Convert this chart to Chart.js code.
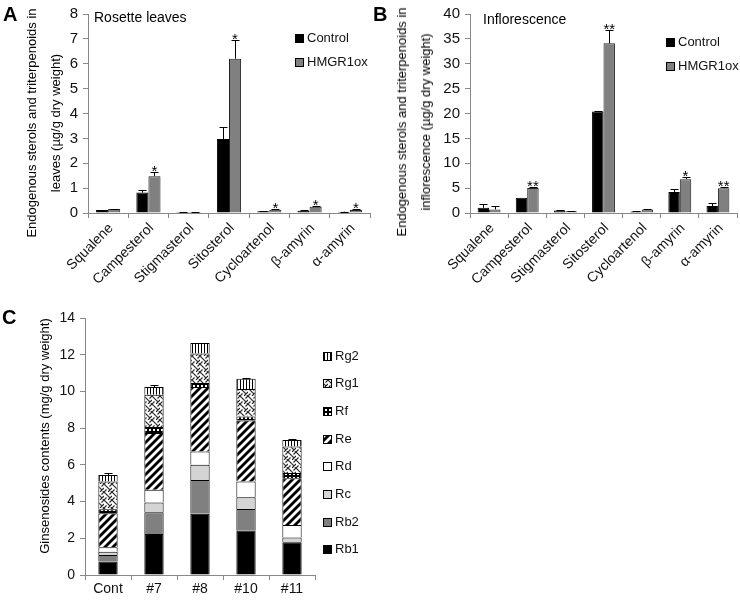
<!DOCTYPE html>
<html><head><meta charset="utf-8">
<script src="https://cdn.jsdelivr.net/npm/chart.js@4.4.1/dist/chart.umd.min.js"></script>
<style>
html,body{margin:0;padding:0;background:#fff;}
body{width:740px;height:603px;position:relative;overflow:hidden;font-family:"Liberation Sans",Arial,sans-serif;color:#000;}
canvas{position:absolute;display:block;}
.t{position:absolute;white-space:nowrap;line-height:1;}
.letter{font-weight:bold;font-size:20px;}
.yt{position:absolute;white-space:nowrap;font-size:13px;line-height:24px;text-align:center;transform:translate(-50%,-50%) rotate(-90deg);}
</style></head><body>
<canvas id="cA" width="380" height="300" style="left:0;top:0"></canvas>
<canvas id="cB" width="370" height="300" style="left:370px;top:0"></canvas>
<canvas id="cC" width="370" height="303" style="left:0;top:300px"></canvas>
<div class="t letter" style="left:3px;top:4px">A</div>
<div class="t letter" style="left:373px;top:4px">B</div>
<div class="t letter" style="left:2px;top:307px">C</div>
<div class="t" style="left:94px;top:10px;font-size:14px">Rosette leaves</div>
<div class="t" style="left:483px;top:12px;font-size:14px">Inflorescence</div>
<div class="yt" style="left:44px;top:123px">Endogenous sterols and triterpenoids in<br>leaves (µg/g dry weight)</div>
<div class="yt" style="left:414px;top:122px">Endogenous sterols and triterpenoids in<br>inflorescence (µg/g dry weight)</div>
<div class="yt" style="left:45px;top:436px">Ginsenosides contents (mg/g dry weight)</div>
<script>
// ---------- data ----------
const compounds = ['Squalene','Campesterol','Stigmasterol','Sitosterol','Cycloartenol','β-amyrin','α-amyrin'];
const leafControl    = [0.12, 0.82, 0.04, 2.97, 0.07, 0.09, 0.05];
const leafHMGR       = [0.16, 1.48, 0.04, 6.20, 0.13, 0.25, 0.12];
const leafControlErr = [0.02, 0.10, 0.01, 0.50, 0.01, 0.03, 0.01];
const leafHMGRErr    = [0.02, 0.16, 0.01, 0.77, 0.03, 0.05, 0.03];
const leafSig        = ['', '*', '', '*', '*', '*', '*'];

const inflControl    = [1.04, 3.07, 0.50, 20.4, 0.30, 4.20, 1.40];
const inflHMGR       = [0.72, 5.04, 0.35, 34.1, 0.70, 6.80, 5.00];
const inflControlErr = [0.86, 0.00, 0.10, 0.10, 0.05, 0.60, 0.55];
const inflHMGRErr    = [0.65, 0.26, 0.05, 2.70, 0.05, 0.45, 0.30];
const inflSig        = ['', '**', '', '**', '', '*', '**'];

const seriesNames = ['Control', 'HMGR1ox'];

const lines = ['Cont', '#7', '#8', '#10', '#11'];
const Rb1 = [0.73, 2.24, 3.33, 2.42, 1.78];
const Rb2 = [0.36, 1.18, 1.85, 1.18, 0.00];
const Rc  = [0.18, 0.53, 0.82, 0.64, 0.26];
const Rd  = [0.24, 0.69, 0.73, 0.85, 0.69];
const Re  = [1.85, 3.09, 3.51, 3.33, 2.54];
const Rf  = [0.22, 0.33, 0.22, 0.22, 0.28];
const Rg1 = [1.51, 1.76, 1.60, 1.49, 1.45];
const Rg2 = [0.36, 0.42, 0.58, 0.56, 0.36];
const totalErr = [0.10, 0.13, 0.00, 0.03, 0.04];

// ---------- styles ----------
Chart.defaults.font.family = '"Liberation Sans", Arial, sans-serif';
Chart.defaults.color = '#111';
Chart.defaults.animation = false;
const AX = '#888';

function pattern(ctx, w, h, draw) {
  const c = document.createElement('canvas'); c.width = w; c.height = h;
  const g = c.getContext('2d');
  g.fillStyle = '#fff'; g.fillRect(0, 0, w, h);
  draw(g);
  return ctx.createPattern(c, 'repeat');
}

// error bars + significance + legend plugin
const extras = {
  id: 'extras',
  afterDatasetsDraw(chart, args, o) {
    const ctx = chart.ctx, ys = chart.scales.y;
    ctx.save();
    ctx.strokeStyle = '#000'; ctx.lineWidth = 1;
    (o.err || []).forEach(e => {
      const meta = chart.getDatasetMeta(e.ds);
      meta.data.forEach((el, i) => {
        if (!e.v[i]) return;
        const top = Math.round(ys.getPixelForValue(e.base[i] + e.v[i])) + 0.5;
        const x = Math.round(el.x) + 0.5;
        ctx.beginPath();
        ctx.moveTo(x, el.y); ctx.lineTo(x, top);
        ctx.moveTo(x - 4, top); ctx.lineTo(x + 4, top);
        ctx.stroke();
      });
    });
    if (o.sig) {
      const meta = chart.getDatasetMeta(o.sig.ds);
      ctx.fillStyle = '#000'; ctx.font = '15px "Liberation Sans", Arial, sans-serif';
      ctx.textAlign = 'center'; ctx.textBaseline = 'alphabetic';
      meta.data.forEach((el, i) => {
        if (!o.sig.marks[i]) return;
        const top = ys.getPixelForValue(o.sig.base[i] + o.sig.err[i]);
        ctx.fillText(o.sig.marks[i], el.x, top + 4);
      });
    }
    if (o.legend) {
      const L = o.legend;
      let idx = chart.data.datasets.map((d, i) => i);
      if (L.reverse) idx.reverse();
      ctx.font = L.size + 'px "Liberation Sans", Arial, sans-serif';
      ctx.textAlign = 'left'; ctx.textBaseline = 'middle';
      idx.forEach((di, k) => {
        const ds = chart.data.datasets[di];
        const y = L.y + k * L.dy;
        const by = Math.round(y - L.box / 2);
        ctx.fillStyle = ds.backgroundColor;
        ctx.fillRect(L.x, by, L.box, L.box);
        ctx.strokeStyle = '#000'; ctx.lineWidth = 1;
        ctx.strokeRect(L.x + 0.5, by + 0.5, L.box - 1, L.box - 1);
        ctx.fillStyle = '#111';
        ctx.fillText(ds.label, L.x + L.box + 3, y);
      });
    }
    ctx.restore();
  }
};

function xAxis(h, rot, size, pad, lo) {
  return {
    grid: { display: true, drawOnChartArea: false, drawTicks: true, tickLength: 5, color: AX, offset: true },
    border: { display: true, color: AX, width: 1 },
    ticks: { font: { size: size }, color: '#111', maxRotation: rot, minRotation: rot, autoSkip: false, padding: pad, labelOffset: lo },
    afterFit(s) { s.height = h; }
  };
}
function yAxis(w, max, step, size) {
  return {
    min: 0, max: max,
    grid: { display: true, drawOnChartArea: false, drawTicks: true, tickLength: 5, color: AX },
    border: { display: true, color: AX, width: 1 },
    ticks: { stepSize: step, font: { size: size }, color: '#111', padding: 5 },
    afterFit(s) { s.width = w; }
  };
}

function sterolChart(id, ctrl, hmgr, cErr, hErr, sig, yMax, yStep, yW, padR, legX, legY) {
  new Chart(document.getElementById(id), {
    type: 'bar',
    data: {
      labels: compounds,
      datasets: [
        { label: seriesNames[0], data: ctrl, backgroundColor: '#000', borderColor: '#000', borderWidth: 1, categoryPercentage: 0.6, barPercentage: 1.0 },
        { label: seriesNames[1], data: hmgr, backgroundColor: '#808080', borderColor: '#222', borderWidth: 1, categoryPercentage: 0.6, barPercentage: 1.0 }
      ]
    },
    options: {
      responsive: false,
      layout: { padding: { top: 9, right: padR, left: 0, bottom: 0 } },
      plugins: {
        legend: { display: false }, tooltip: { enabled: false },
        extras: {
          err: [{ ds: 0, v: cErr, base: ctrl }, { ds: 1, v: hErr, base: hmgr }],
          sig: { ds: 1, marks: sig, base: hmgr, err: hErr },
          legend: { x: legX, y: legY, dy: 24.5, box: 9, size: 13 }
        }
      },
      scales: { x: xAxis(87, 45, 14, 2, 3), y: yAxis(yW, yMax, yStep, 15) }
    },
    plugins: [extras]
  });
}

sterolChart('cA', leafControl, leafHMGR, leafControlErr, leafHMGRErr, leafSig, 8, 1, 88, 10, 295, 38);
sterolChart('cB', inflControl, inflHMGR, inflControlErr, inflHMGRErr, inflSig, 40, 5, 100, 3, 296, 42);

// ---------- panel C ----------
const cctx = document.getElementById('cC').getContext('2d');
const pRe = pattern(cctx, 8, 8, g => {
  g.strokeStyle = '#000'; g.lineWidth = 2.8;
  [-8, 0, 8].forEach(ox => { g.beginPath(); g.moveTo(ox - 1, 9); g.lineTo(ox + 9, -1); g.stroke(); });
});
const pRg2 = pattern(cctx, 3, 3, g => { g.fillStyle = '#000'; g.fillRect(0, 0, 1, 3); });
const pRf = pattern(cctx, 4, 4, g => { g.fillStyle = '#000'; g.fillRect(0, 0, 4, 4); g.fillStyle = '#fff'; g.fillRect(1, 1, 2, 2); });
const pRg1 = pattern(cctx, 8, 8, g => {
  g.strokeStyle = '#222'; g.lineWidth = 1.1;
  g.beginPath();
  g.moveTo(0, 0); g.lineTo(8, 8);
  g.moveTo(0, 8); g.lineTo(2.5, 5.5);
  g.moveTo(5.5, 2.5); g.lineTo(8, 0);
  g.moveTo(-4, 4); g.lineTo(0, 0);
  g.moveTo(4, 8); g.lineTo(8, 4);
  g.stroke();
});
const segNames = ['Rb1', 'Rb2', 'Rc', 'Rd', 'Re', 'Rf', 'Rg1', 'Rg2'];
const segData = [Rb1, Rb2, Rc, Rd, Re, Rf, Rg1, Rg2];
const segFill = ['#000', '#808080', '#d4d4d4', '#fff', pRe, pRf, pRg1, pRg2];
const stackTop = lines.map((_, i) => segData.reduce((s, a) => s + a[i], 0));

new Chart(document.getElementById('cC'), {
  type: 'bar',
  data: {
    labels: lines,
    datasets: segNames.map((n, k) => ({
      label: n, data: segData[k], backgroundColor: segFill[k], borderColor: '#000', borderWidth: 1,
      categoryPercentage: 1.0, barPercentage: 0.42
    }))
  },
  options: {
    responsive: false,
    layout: { padding: { top: 18, right: 55, left: 0, bottom: 0 } },
    plugins: {
      legend: { display: false }, tooltip: { enabled: false },
      extras: {
        err: [{ ds: 7, v: totalErr, base: stackTop }],
        legend: { x: 323, y: 56, dy: 27.7, box: 9, size: 13, reverse: true }
      }
    },
    scales: {
      x: Object.assign(xAxis(28, 0, 14, 1, 0), { stacked: true }),
      y: Object.assign(yAxis(85, 14, 2, 14), { stacked: true })
    }
  },
  plugins: [extras]
});
</script>
</body></html>
